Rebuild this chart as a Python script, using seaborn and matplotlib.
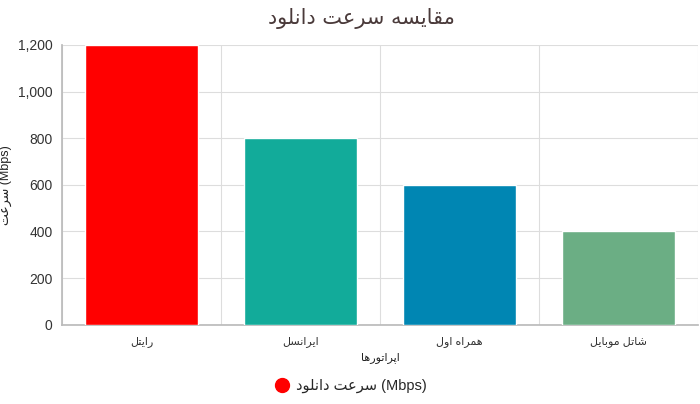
import re
import unicodedata
import numpy as np
import pandas as pd
import seaborn as sns
import matplotlib.pyplot as plt
from matplotlib.ticker import FuncFormatter, FixedLocator

#Data---------------------------------------------------------------------------------------------------
operators = ["رایتل", "ایرانسل", "همراه اول", "شاتل موبایل"]
speeds = [1200, 800, 600, 400]
bar_colors = ["#FF0000", "#12AB9A", "#0086B3", "#6BAE84"]
title_text = "مقایسه سرعت دانلود"
xlabel_text = "اپراتورها"
ylabel_text = "سرعت (Mbps)"
legend_text = "سرعت دانلود (Mbps)"

#Simple Persian shaping (matplotlib has no shaping / bidi)----------------------------------------------
def form(c, kind):
    try:
        return unicodedata.lookup(unicodedata.name(c) + " " + kind + " FORM")
    except (KeyError, ValueError):
        return None

def is_arabic(c):
    return form(c, "ISOLATED") is not None

def joins_next(c):  # dual joining letter
    return form(c, "INITIAL") is not None

AR = "[\uFB50-\uFEFF\u0600-\u06FF]"

def shape(text):
    out = []
    for i, c in enumerate(text):
        if not is_arabic(c):
            out.append(c)
            continue
        prev = text[i - 1] if i > 0 else ""
        nxt = text[i + 1] if i + 1 < len(text) else ""
        left = prev != "" and is_arabic(prev) and joins_next(prev)
        right = nxt != "" and is_arabic(nxt) and joins_next(c)
        if left and right:
            out.append(form(c, "MEDIAL"))
        elif left:
            out.append(form(c, "FINAL"))
        elif right:
            out.append(form(c, "INITIAL"))
        else:
            out.append(form(c, "ISOLATED"))
    s = "".join(out)
    # LTR paragraph like the reference: only the arabic runs are reversed
    return re.sub(AR + "+(?: +" + AR + "+)*", lambda m: m.group(0)[::-1], s)

#Plot---------------------------------------------------------------------------------------------------
sns.set_theme(style="white")
plt.rcParams['font.family'] = ['Liberation Sans', 'DejaVu Sans']

df = pd.DataFrame({"operator": operators, "speed": speeds})

fig, ax = plt.subplots(figsize=(7, 4.04), dpi=100)
fig.subplots_adjust(left=0.089, right=0.997, top=0.889, bottom=0.196)

sns.barplot(data=df, x="operator", y="speed", hue="operator", palette=bar_colors,
            width=0.71, saturation=1, legend=False, ax=ax, zorder=3)

ax.set_xlim(-0.5, len(operators) - 0.5)
ax.set_ylim(0, 1200)
ax.set_yticks(np.arange(0, 1201, 200))
ax.yaxis.set_major_formatter(FuncFormatter(lambda v, p: f"{int(v):,}"))
ax.set_xticks(range(len(operators)))
ax.set_xticklabels([shape(o) for o in operators], fontsize=8, color="#333333")
ax.xaxis.set_minor_locator(FixedLocator(np.arange(-0.5, len(operators), 1)))
ax.tick_params(axis="y", labelsize=10, colors="#333333", length=5, color="#cccccc", pad=2)
ax.tick_params(axis="x", which="major", length=0, pad=8)
ax.tick_params(axis="x", which="minor", length=6, color="#cccccc")

ax.grid(axis="y", color="#dddddd", linewidth=0.8, zorder=0)
ax.grid(axis="x", which="minor", color="#dddddd", linewidth=0.8, zorder=0)
for s in ["top", "right"]:
    ax.spines[s].set_visible(False)
ax.spines["left"].set_color("#bbbbbb")
ax.spines["bottom"].set_color("#bbbbbb")

fig.suptitle(shape(title_text), x=0.517, y=0.955, va="center", fontsize=15, color="#4a3a3a",
             family=['DejaVu Sans'])
ax.set_xlabel(shape(xlabel_text), fontsize=8, color="#222222", labelpad=4)
ax.set_ylabel(shape(ylabel_text), fontsize=9, color="#222222", labelpad=4)

handle = plt.Line2D([], [], marker="o", color="none", markerfacecolor="#FF0000",
                    markeredgecolor="#FF0000", markersize=10)
fig.legend([handle], [shape(legend_text)], loc="center", bbox_to_anchor=(0.5, 0.045),
           frameon=False, fontsize=10.5, handletextpad=0.3, handlelength=1.2)

fig.savefig("out.png", dpi=100)
